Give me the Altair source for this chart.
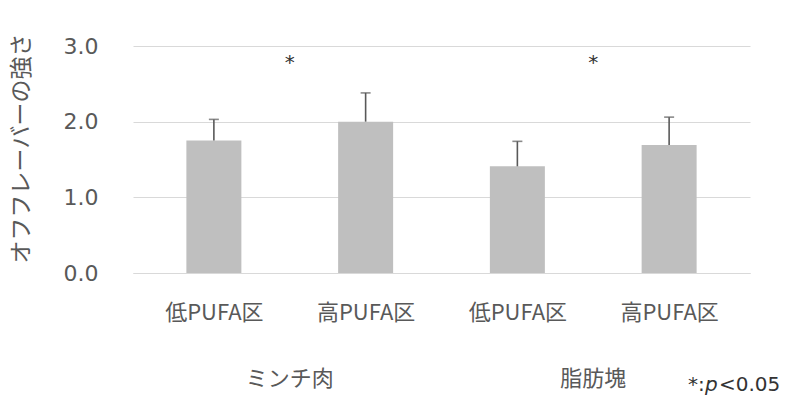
import altair as alt
import pandas as pd

# Off-flavour intensity by meat form and PUFA level
groups = ["ミンチ肉", "ミンチ肉", "脂肪塊", "脂肪塊"]
levels = ["低PUFA区", "高PUFA区", "低PUFA区", "高PUFA区"]
means = [1.75, 2.00, 1.41, 1.69]
upper = [2.03, 2.38, 1.74, 2.06]
positions = [0, 1, 2, 3]

group_names = ["ミンチ肉", "脂肪塊"]
group_centers = [0.5, 2.5]
star_level = [2.78, 2.78]

bars = pd.DataFrame({"pos": positions, "group": groups, "level": levels,
                     "mean": means, "upper": upper})
grp = pd.DataFrame({"pos": group_centers, "name": group_names, "star": star_level})

W, H = 617, 227
FONT = "Noto Sans CJK JP"
GRAY = "#595959"
DARK = "#333333"

label_expr = "[" + ",".join(f"'{s}'" for s in levels) + "][datum.value]"

x_scale = alt.Scale(domain=[-0.5, 3.5], nice=False, zero=False)
y_scale = alt.Scale(domain=[0, 3], nice=False)

x_axis = alt.Axis(values=positions, labelExpr=label_expr, grid=False, ticks=False,
                  domain=True, domainColor="#d9d9d9", domainWidth=1,
                  labelFont=FONT, labelFontSize=22, labelColor=GRAY,
                  labelPadding=29, labelAngle=0, title=None)
y_axis = alt.Axis(values=[0, 1, 2, 3], format=".1f", grid=True, gridColor="#d9d9d9",
                  gridWidth=1, ticks=False, domain=False,
                  labelFont="DejaVu Sans", labelFontSize=22, labelColor=GRAY,
                  labelPadding=35,
                  title="オフフレーバーの強さ", titleFont=FONT, titleFontSize=23,
                  titleFontWeight="normal", titleColor=GRAY,
                  titleX=-112, titleY=102, titleAngle=-90,
                  titleAlign="center", titleBaseline="middle")

base = alt.Chart(bars)

bar = base.mark_bar(color="#bfbfbf", size=55).encode(
    x=alt.X("pos:Q", scale=x_scale, axis=x_axis),
    y=alt.Y("mean:Q", scale=y_scale, axis=y_axis),
)

err = base.mark_rule(color=GRAY, strokeWidth=1.6).encode(
    x="pos:Q", y="mean:Q", y2="upper:Q")

cap = base.mark_tick(color=GRAY, orient="horizontal", size=10, thickness=1.6).encode(
    x="pos:Q", y="upper:Q")

stars = alt.Chart(grp).mark_text(text="*", font="DejaVu Sans", fontSize=20,
                                 color=DARK, baseline="middle").encode(
    x="pos:Q", y="star:Q")

group_labels = alt.Chart(grp).mark_text(font=FONT, fontSize=22, color=GRAY,
                                        baseline="middle").encode(
    x="pos:Q", y=alt.value(H + 106), text="name:N")

# significance note, "p" set in italics
note_df = pd.DataFrame({"part": ["*:", "p", "<0.05"]})
note_y = alt.value(H + 112)
note_star = alt.Chart(note_df.iloc[[0]]).mark_text(
    font="DejaVu Sans", fontSize=20, color=DARK, align="left", baseline="middle"
).encode(x=alt.value(W - 62), y=note_y, text="part:N")
note_p = alt.Chart(note_df.iloc[[1]]).mark_text(
    font="DejaVu Sans", fontSize=20, fontStyle="italic", color=DARK,
    align="left", baseline="middle"
).encode(x=alt.value(W - 45), y=note_y, text="part:N")
note_rest = alt.Chart(note_df.iloc[[2]]).mark_text(
    font="DejaVu Sans", fontSize=20, color=DARK, align="left", baseline="middle"
).encode(x=alt.value(W - 31), y=note_y, text="part:N")

chart = alt.layer(bar, err, cap, stars, group_labels, note_star, note_p, note_rest).properties(
    width=W, height=H,
    autosize=alt.AutoSizeParams(type="none"),
    padding={"left": 133, "top": 46, "right": 40, "bottom": 137},
).configure(background="white").configure_view(stroke=None)

chart.save("out.html", embed_options={"renderer": "svg", "actions": False})
